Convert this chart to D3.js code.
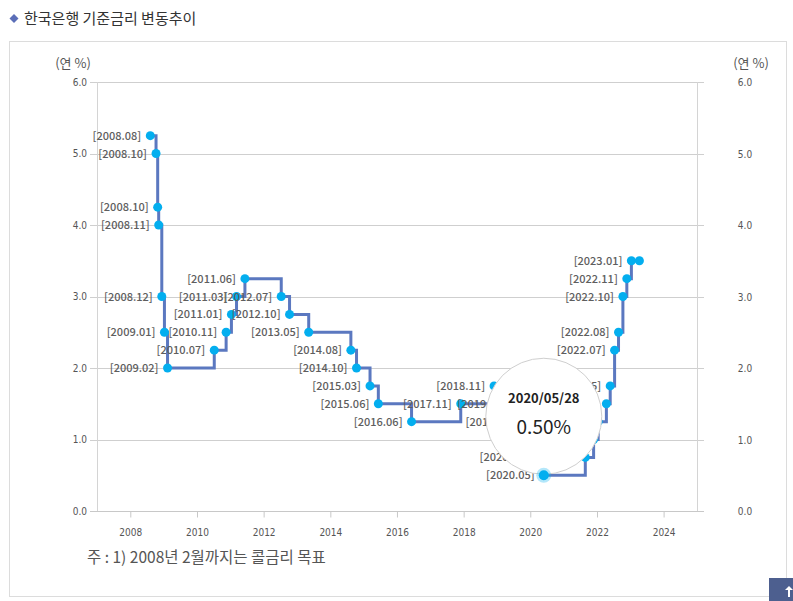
<!DOCTYPE html>
<html>
<head>
<meta charset="utf-8">
<script src="https://cdn.jsdelivr.net/npm/d3@7"></script>
<style>
  body { margin: 0; background: #fff; }
  svg { display: block; font-family: "Noto Sans CJK KR", "Noto Sans", sans-serif; }
</style>
</head>
<body>
<div id="chart"></div>
<script>
// 기준금리 변경일과 금리 (연 %)
const dates = ["2008-08-07", "2008-10-09", "2008-10-27", "2008-11-07", "2008-12-11",
  "2009-01-09", "2009-02-12", "2010-07-09", "2010-11-16", "2011-01-13", "2011-03-10",
  "2011-06-10", "2012-07-12", "2012-10-11", "2013-05-09", "2014-08-14", "2014-10-15",
  "2015-03-12", "2015-06-11", "2016-06-09", "2017-11-30", "2018-11-30", "2019-07-18",
  "2019-10-16", "2020-03-17", "2020-05-28", "2021-08-26", "2021-11-25", "2022-01-14",
  "2022-04-14", "2022-05-26", "2022-07-13", "2022-08-25", "2022-10-12", "2022-11-24",
  "2023-01-13", "2023-04-11"];
const rates = [5.25, 5.00, 4.25, 4.00, 3.00, 2.50, 2.00, 2.25, 2.50, 2.75, 3.00,
  3.25, 3.00, 2.75, 2.50, 2.25, 2.00, 1.75, 1.50, 1.25, 1.50, 1.75, 1.50,
  1.25, 0.75, 0.50, 0.75, 1.00, 1.25, 1.50, 1.75, 2.25, 2.50, 3.00, 3.25,
  3.50, 3.50];
const labels = ["[2008.08]", "[2008.10]", "[2008.10]", "[2008.11]", "[2008.12]",
  "[2009.01]", "[2009.02]", "[2010.07]", "[2010.11]", "[2011.01]", "[2011.03]",
  "[2011.06]", "[2012.07]", "[2012.10]", "[2013.05]", "[2014.08]", "[2014.10]",
  "[2015.03]", "[2015.06]", "[2016.06]", "[2017.11]", "[2018.11]", "[2019.07]",
  "[2019.10]", "[2020.03]", "[2020.05]", "[2021.08]", "[2021.11]", "[2022.01]",
  "[2022.04]", "[2022.05]", "[2022.07]", "[2022.08]", "[2022.10]", "[2022.11]",
  "[2023.01]", ""];
const yTicks = [0, 1, 2, 3, 4, 5, 6];
const xTickYears = [2008, 2010, 2012, 2014, 2016, 2018, 2020, 2022, 2024];
const highlightIndex = 25;
const tooltipDate = "2020/05/28";
const tooltipValue = "0.50%";

const W = 793, H = 601;
const plotL = 97, plotR = 697, plotT = 82, plotB = 511;

const parse = d3.timeParse("%Y-%m-%d");
const data = dates.map((d, i) => ({ date: parse(d), rate: rates[i], label: labels[i] }));

const x = d3.scaleTime()
  .domain([new Date(2007, 0, 1), new Date(2025, 0, 1)])
  .range([plotL, plotR]);
const y = d3.scaleLinear().domain([0, 6]).range([plotB, plotT]);

const svg = d3.select("#chart").append("svg")
  .attr("width", W)
  .attr("height", H);

// title
svg.append("path")
  .attr("d", "M14,14 L18.5,18.5 L14,23 L9.5,18.5 Z")
  .attr("fill", "#5b6eb8");
svg.append("text")
  .attr("x", 24).attr("y", 24)
  .attr("font-size", 15)
  .attr("fill", "#333")
  .text("한국은행 기준금리 변동추이");

// panel
svg.append("rect")
  .attr("x", 9.5).attr("y", 41.5)
  .attr("width", 777).attr("height", 555)
  .attr("fill", "none")
  .attr("stroke", "#dcdcdc");

// grid lines + tick marks
const grid = svg.append("g");
grid.selectAll("line.h")
  .data(yTicks)
  .enter()
  .append("line")
  .attr("x1", plotL - 7).attr("x2", plotR + 7)
  .attr("y1", d => Math.round(y(d)) + 0.5)
  .attr("y2", d => Math.round(y(d)) + 0.5)
  .attr("stroke", d => d === 0 ? "#c8c8c8" : "#cfcfcf");

grid.append("line")
  .attr("x1", plotL + 0.5).attr("x2", plotL + 0.5)
  .attr("y1", plotT).attr("y2", plotB)
  .attr("stroke", "#d4d4d4");
grid.append("line")
  .attr("x1", plotR + 0.5).attr("x2", plotR + 0.5)
  .attr("y1", plotT).attr("y2", plotB)
  .attr("stroke", "#d4d4d4");

// axes
const xAxis = d3.axisBottom(x)
  .tickValues(xTickYears.map(yr => new Date(yr, 0, 1)))
  .tickFormat(d3.timeFormat("%Y"))
  .tickSize(6)
  .tickSizeOuter(0);
const gx = svg.append("g")
  .attr("transform", "translate(0," + (Math.round(y(0)) + 0.5) + ")")
  .call(xAxis);
gx.select(".domain").remove();
gx.selectAll("line").attr("stroke", "#c8c8c8");
gx.selectAll("text")
  .attr("dy", "1.5em")
  .attr("font-size", 10)
  .attr("font-family", "'Liberation Sans Narrow', 'DejaVu Sans Condensed', sans-serif")
  .attr("fill", "#555");

const yLeft = d3.axisLeft(y)
  .tickValues(yTicks)
  .tickFormat(d3.format(".1f"))
  .tickSize(0)
  .tickPadding(10);
const gyl = svg.append("g")
  .attr("transform", "translate(" + plotL + ",0)")
  .call(yLeft);
gyl.select(".domain").remove();
gyl.selectAll("text")
  .attr("font-size", 10)
  .attr("font-family", "'DejaVu Sans Condensed', sans-serif")
  .attr("fill", "#555");

const gyr = svg.append("g");
gyr.selectAll("text")
  .data(yTicks)
  .enter()
  .append("text")
  .attr("x", 745)
  .attr("y", d => y(d) + 4)
  .attr("text-anchor", "middle")
  .attr("font-size", 10)
  .attr("font-family", "'DejaVu Sans Condensed', sans-serif")
  .attr("fill", "#555")
  .text(d3.format(".1f"));

svg.append("text")
  .attr("x", 73).attr("y", 68)
  .attr("text-anchor", "middle")
  .attr("font-size", 13)
  .attr("fill", "#555")
  .text("(연 %)");
svg.append("text")
  .attr("x", 751).attr("y", 68)
  .attr("text-anchor", "middle")
  .attr("font-size", 13)
  .attr("fill", "#555")
  .text("(연 %)");

// step line
const line = d3.line()
  .x(d => x(d.date))
  .y(d => y(d.rate))
  .curve(d3.curveStepAfter);

svg.append("path")
  .datum(data)
  .attr("d", line)
  .attr("fill", "none")
  .attr("stroke", "#5b78c0")
  .attr("stroke-width", 3);

// points
svg.selectAll("circle.pt")
  .data(data)
  .enter()
  .append("circle")
  .attr("class", "pt")
  .attr("cx", d => x(d.date))
  .attr("cy", d => y(d.rate))
  .attr("r", 4.5)
  .attr("fill", "#03aeef");

// labels
svg.selectAll("text.lbl")
  .data(data.filter(d => d.label))
  .enter()
  .append("text")
  .attr("class", "lbl")
  .attr("x", d => x(d.date) - 9)
  .attr("y", d => y(d.rate) + 4)
  .attr("text-anchor", "end")
  .attr("font-size", 11)
  .attr("font-weight", 500)
  .attr("fill", "#5e5e5e")
  .text(d => d.label);

// tooltip
const hp = data[highlightIndex];
const tx = x(hp.date), ty = y(hp.rate) - 59;
svg.append("circle")
  .attr("cx", tx).attr("cy", ty)
  .attr("r", 58)
  .attr("fill", "#fff")
  .attr("stroke", "#cfcfcf");
svg.append("text")
  .attr("x", tx).attr("y", ty - 13)
  .attr("text-anchor", "middle")
  .attr("font-size", 13)
  .attr("font-weight", "bold")
  .attr("fill", "#222")
  .text(tooltipDate);
svg.append("text")
  .attr("x", tx).attr("y", ty + 18)
  .attr("text-anchor", "middle")
  .attr("font-size", 19)
  .attr("fill", "#222")
  .text(tooltipValue);

svg.append("circle")
  .attr("cx", x(hp.date)).attr("cy", y(hp.rate))
  .attr("r", 7.5)
  .attr("fill", "#03aeef")
  .attr("opacity", 0.3);
svg.append("circle")
  .attr("cx", x(hp.date)).attr("cy", y(hp.rate))
  .attr("r", 5)
  .attr("fill", "#03aeef");

// footnote
svg.append("text")
  .attr("x", 87).attr("y", 563)
  .attr("font-size", 15.5)
  .attr("fill", "#555")
  .text("주 : 1) 2008년 2월까지는 콜금리 목표");

// top button
svg.append("rect")
  .attr("x", 769).attr("y", 578)
  .attr("width", 24).attr("height", 23)
  .attr("fill", "#4d5f8f");
svg.append("path")
  .attr("d", "M789,586 L785,590 L788,590 L788,597 L790,597 L790,590 L793,590 Z")
  .attr("fill", "#fff");
</script>
</body>
</html>
